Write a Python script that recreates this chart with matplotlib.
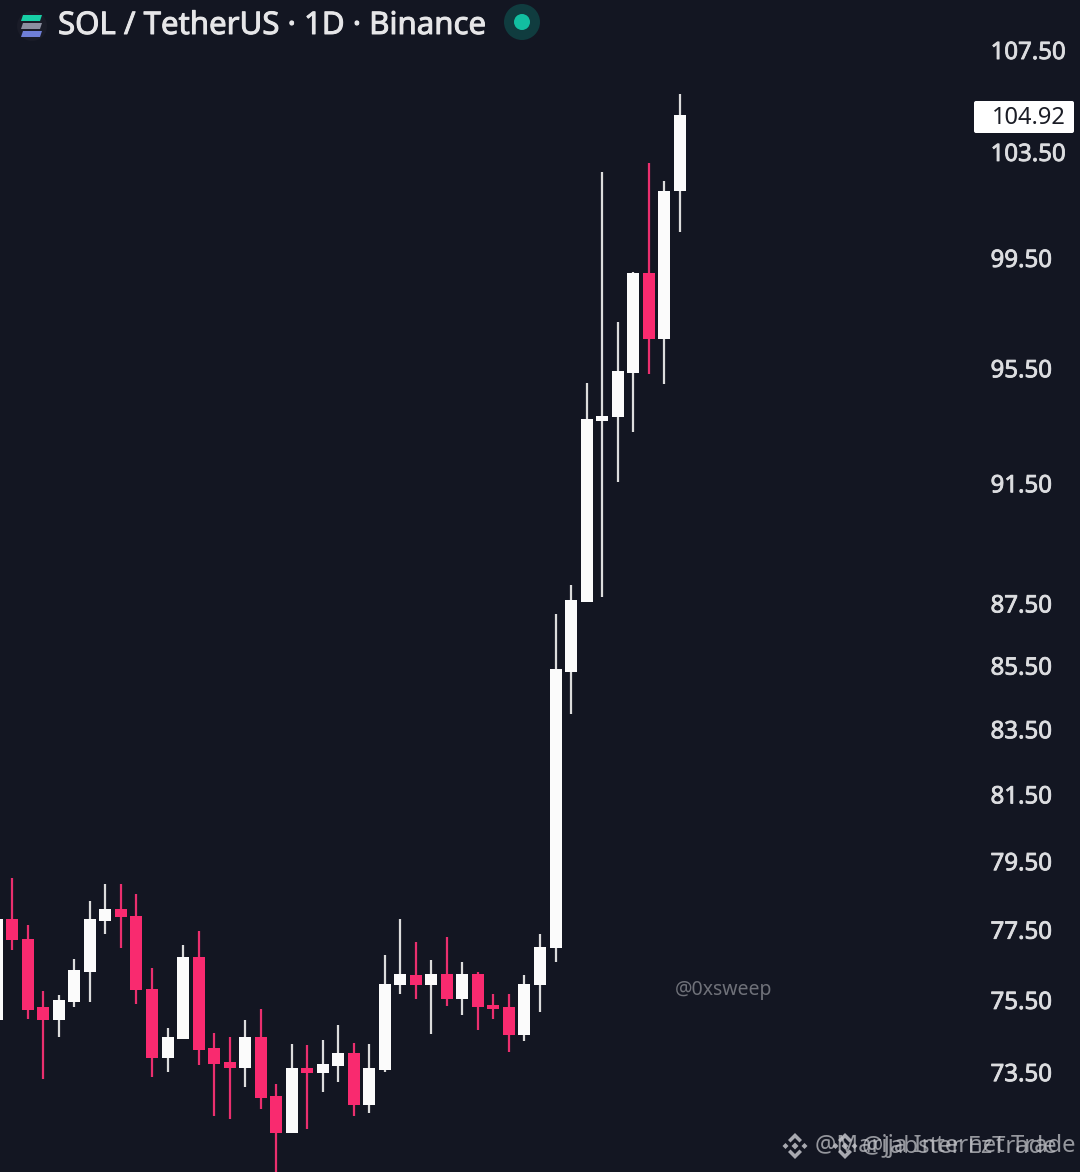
import matplotlib
matplotlib.use("Agg")
import matplotlib.pyplot as plt
import matplotlib.patheffects as pe
from matplotlib.patches import Circle, Polygon, FancyBboxPatch
from matplotlib.ticker import NullFormatter, NullLocator
import numpy as np

W, H = 1080, 1172
BG = "#131622"
UP = "#fbfbfb"
DOWN = "#f92a6f"
UP_WICK = "#dcdcdc"
DOWN_WICK = "#ea2f6e"

# candle tops / bottoms of body, with wick ends (price units)
highs = [77.95, 79.01, 77.63, 75.74, 75.63, 76.67, 78.33, 78.84, 78.84, 78.55, 76.39, 74.72, 77.05, 77.46, 74.58,
         74.47, 74.93, 75.26, 73.17, 74.28, 74.24, 74.39, 74.79, 74.30, 74.28, 76.77, 77.82, 77.15, 76.62, 77.29,
         76.57, 76.29, 75.68, 75.68, 76.20, 77.39, 87.17, 88.10, 94.98, 102.72, 97.17, 98.99, 103.06, 102.40, 105.75]
opens = [74.93, 77.81, 77.24, 75.30, 74.93, 75.44, 76.29, 77.76, 78.10, 77.91, 75.82, 73.89, 74.42, 76.72, 74.15,
         73.79, 73.61, 74.47, 72.84, 71.86, 73.61, 73.48, 73.66, 74.02, 72.62, 73.55, 75.91, 76.20, 75.91, 76.24,
         75.54, 76.24, 75.35, 75.30, 74.53, 75.91, 76.96, 85.31, 87.55, 93.64, 93.77, 95.34, 98.93, 96.53, 101.99]
closes = [77.81, 77.19, 75.21, 74.93, 75.49, 76.34, 77.81, 78.10, 77.86, 75.77, 73.89, 74.47, 76.72, 74.10, 73.73,
          73.60, 74.47, 72.80, 71.86, 73.61, 73.48, 73.71, 74.02, 72.62, 73.61, 75.96, 76.24, 75.91, 76.24, 75.54,
          76.24, 75.30, 75.26, 74.53, 75.96, 77.00, 85.38, 87.61, 93.70, 93.83, 95.40, 98.95, 96.53, 102.02, 104.92]
lows = [74.85, 76.91, 74.98, 73.32, 74.47, 75.30, 75.44, 77.39, 76.96, 75.40, 73.37, 73.50, 74.40, 73.69, 72.30,
        72.24, 73.09, 72.51, 70.74, 71.86, 71.95, 72.96, 73.23, 72.30, 72.39, 73.50, 75.68, 75.52, 74.56, 75.32,
        75.07, 74.65, 74.98, 74.05, 74.37, 75.16, 76.57, 83.96, 87.55, 87.72, 91.53, 93.26, 95.28, 94.93, 100.47]

tick_values = [107.50, 103.50, 99.50, 95.50, 91.50, 87.50, 85.50, 83.50, 81.50, 79.50, 77.50, 75.50, 73.50]
tick_labels = ["107.50", "103.50", "99.50", "95.50", "91.50", "87.50", "85.50", "83.50", "81.50", "79.50",
               "77.50", "75.50", "73.50"]
last_price = 104.92
title = "SOL / TetherUS · 1D · Binance"
handle = "@0xsweep"

FONT = "Noto Sans"
plt.rcParams["font.family"] = [FONT, "DejaVu Sans"]

fig = plt.figure(figsize=(W / 100, H / 100), dpi=100, facecolor=BG)
AX_W = 985
ax = fig.add_axes([0, 0, AX_W / W, 1], facecolor=BG)
ax.set_yscale("log")
ax.set_ylim(70.82, 109.52)
STEP = 15.52
ax.set_xlim(3.2 / STEP, (AX_W + 3.2) / STEP)
for s in ax.spines.values():
    s.set_visible(False)
ax.set_xticks([])

idx = np.arange(len(opens))
o, c, hi, lo = map(np.array, (opens, closes, highs, lows))
up = c >= o
ax.vlines(idx[up], lo[up], hi[up], color=UP_WICK, lw=1.6, zorder=2)
ax.vlines(idx[~up], lo[~up], hi[~up], color=DOWN_WICK, lw=1.6, zorder=2)
bot = np.minimum(o, c)
top = np.maximum(o, c)
ax.bar(idx[up], (top - bot)[up], bottom=bot[up], width=12 / STEP, color=UP, zorder=3, linewidth=0)
ax.bar(idx[~up], (top - bot)[~up], bottom=bot[~up], width=12 / STEP, color=DOWN, zorder=3, linewidth=0)

# price axis
ax.yaxis.tick_right()
ax.yaxis.set_minor_locator(NullLocator())
ax.yaxis.set_minor_formatter(NullFormatter())
ax.set_yticks(tick_values)
ax.set_yticklabels(tick_labels)
ax.tick_params(axis="y", which="major", length=0, pad=4, labelsize=17.3, labelcolor="#dcdde0")
embolden = [pe.withStroke(linewidth=0.6, foreground="#dcdde0")]
for t in ax.get_yticklabels():
    t.set_ha("left")
    t.set_path_effects(embolden)

# overlay in picture pixels for header icons and footer mark
ov = fig.add_axes([0, 0, 1, 1], facecolor="none")
ov.set_xlim(0, W)
ov.set_ylim(H, 0)
ov.axis("off")

# last price tag
ov.add_patch(FancyBboxPatch((974, 101), 100, 32, boxstyle="round,pad=0,rounding_size=2", fc="#ffffff", ec="none",
                            zorder=5))
ov.text(992, 118, f"{last_price:.2f}", color="#1b1d26", fontsize=17, va="center", ha="left", zorder=6)

# title and header icons
ov.text(58, 26, title, color="#e6e6e8", fontsize=22.45, va="center", ha="left",
        path_effects=[pe.withStroke(linewidth=0.7, foreground="#e6e6e8")])
ov.add_patch(Circle((32, 26), 15, fc="#1a1c28", ec="none"))
for yy, col in ((15, "#17cfa6"), (23, "#8b8f9f"), (31, "#6f7fd8")):
    ov.add_patch(Polygon([(23, yy), (42, yy), (40, yy + 6), (21, yy + 6)], closed=True, fc=col, ec="none", zorder=3))
ov.add_patch(Circle((522, 22), 18, fc="#103c3f", ec="none"))
ov.add_patch(Circle((522, 22), 8, fc="#12bfa1", ec="none"))

# watermarks
ov.text(675, 990, handle, color="#6f7179", fontsize=14, va="center", ha="left")

LOGO = "#b9bac0"
for lx in (795, 845):
    cy = 1146
    shapes = [
        [(lx, cy - 3.5), (lx + 3.5, cy), (lx, cy + 3.5), (lx - 3.5, cy)],
        [(lx - 12.5, cy), (lx - 9.5, cy - 3), (lx - 6.5, cy), (lx - 9.5, cy + 3)],
        [(lx + 12.5, cy), (lx + 9.5, cy - 3), (lx + 6.5, cy), (lx + 9.5, cy + 3)],
        [(lx, cy - 13), (lx + 7, cy - 6), (lx + 4.5, cy - 3.5), (lx, cy - 8), (lx - 4.5, cy - 3.5), (lx - 7, cy - 6)],
        [(lx, cy + 13), (lx + 7, cy + 6), (lx + 4.5, cy + 3.5), (lx, cy + 8), (lx - 4.5, cy + 3.5), (lx - 7, cy + 6)],
    ]
    for pts in shapes:
        ov.add_patch(Polygon(pts, closed=True, fc=LOGO, ec="none", alpha=0.9))
ov.text(815, 1146, "@Marija Internet Trade", color="#c2c3c8", fontsize=17.2, va="center", ha="left", alpha=0.75)
ov.text(862, 1146, "@Jabster EzTrade", color="#c2c3c8", fontsize=17.2, va="center", ha="left", alpha=0.75)

fig.savefig("out.png", dpi=100, facecolor=BG)
